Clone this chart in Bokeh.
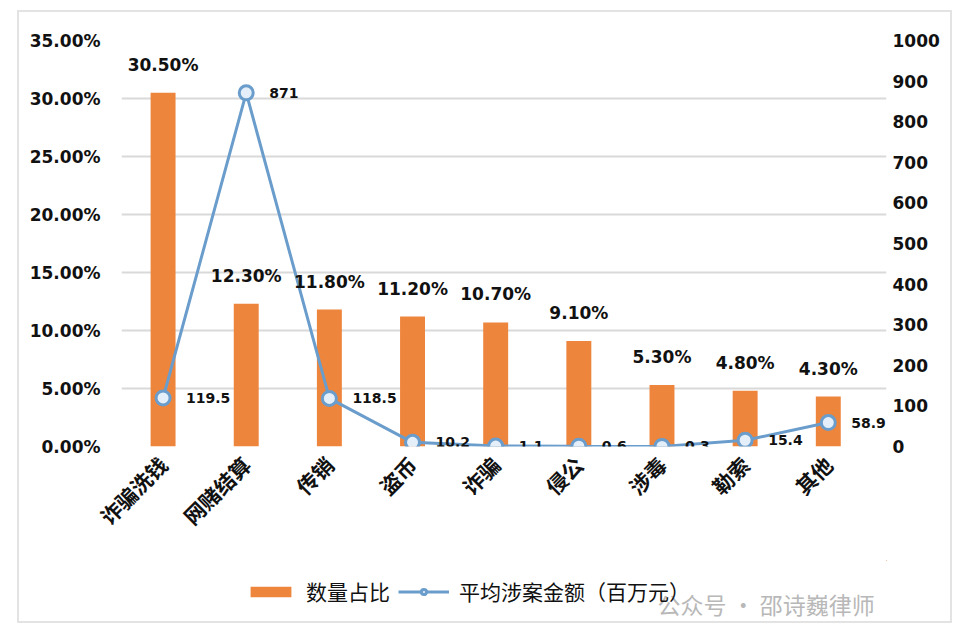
import math
from bokeh.plotting import figure
from bokeh.layouts import column
from bokeh.models import (ColumnDataSource, Range1d, LinearAxis, FixedTicker,
                          PrintfTickFormatter, LabelSet, Legend, LegendItem, Label)
from bokeh.core.properties import value
from bokeh.embed import file_html
from bokeh.resources import INLINE

categories = ["诈骗洗钱", "网赌结算", "传销", "盗币", "诈骗", "侵公", "涉毒", "勒索", "其他"]
share_pct = [30.5, 12.3, 11.8, 11.2, 10.7, 9.1, 5.3, 4.8, 4.3]
avg_amount = [119.5, 871, 118.5, 10.2, 1.1, 0.6, 0.3, 15.4, 58.9]
left_ticks = [0, 5, 10, 15, 20, 25, 30, 35]
right_ticks = [0, 100, 200, 300, 400, 500, 600, 700, 800, 900, 1000]

idx = list(range(len(categories)))
src = ColumnDataSource(dict(
    x=idx,
    cat=categories,
    share=share_pct,
    amt=avg_amount,
    share_txt=[f"{v:.2f}%" for v in share_pct],
    amt_txt=[f"{v:g}" for v in avg_amount],
))

NUM_FONT = "DejaVu Sans"
CJK_FONT = "Noto Sans CJK SC"
BAR_COLOR = "#ee853c"
LINE_COLOR = "#6a9dcb"
MARK_FILL = "#e4effa"

# ---------------- main chart ----------------
p = figure(x_range=Range1d(-0.5, len(categories) - 0.5 + 0.2), y_range=Range1d(0, 35),
           width=935, height=550, output_backend="svg", toolbar_location=None,
           min_border_left=102, min_border_right=68, min_border_top=28, min_border_bottom=116)
p.styles = {"border-style": "solid", "border-color": "#e3e3e3",
            "border-width": "2px 2px 0px 2px"}
p.outline_line_color = None
p.background_fill_color = "white"
p.border_fill_color = "white"
p.extra_y_ranges = {"amt": Range1d(0, 1000)}

p.xgrid.grid_line_color = None
p.ygrid.grid_line_color = "#d9d9d9"
p.ygrid.grid_line_width = 2
p.yaxis.ticker = FixedTicker(ticks=left_ticks)
p.yaxis.formatter = PrintfTickFormatter(format="%.2f%%")

ax = p.yaxis[0]
ax.axis_line_color = None
ax.major_tick_line_color = None
ax.minor_tick_line_color = None
ax.major_label_text_font = NUM_FONT
ax.major_label_text_font_style = "bold"
ax.major_label_text_font_size = "17px"
ax.major_label_text_color = "#111111"
ax.major_label_standoff = 15

rax = LinearAxis(y_range_name="amt", ticker=FixedTicker(ticks=right_ticks))
rax.axis_line_color = None
rax.major_tick_line_color = None
rax.minor_tick_line_color = None
rax.major_label_text_font = NUM_FONT
rax.major_label_text_font_style = "bold"
rax.major_label_text_font_size = "17px"
rax.major_label_text_color = "#111111"
rax.major_label_standoff = 0
p.add_layout(rax, "right")

xa = p.xaxis[0]
xa.ticker = FixedTicker(ticks=idx)
xa.major_label_overrides = {i: c for i, c in zip(idx, categories)}
xa.axis_line_color = None
xa.major_tick_line_color = None
xa.minor_tick_line_color = None
xa.major_label_orientation = math.pi / 4
xa.major_label_text_font = CJK_FONT
xa.major_label_text_font_style = "bold"
xa.major_label_text_font_size = "21px"
xa.major_label_text_color = "#111111"
xa.major_label_standoff = 8

bars = p.vbar(x="x", top="share", width=0.3, source=src,
              fill_color=BAR_COLOR, line_color=None)
line = p.line(x="x", y="amt", source=src, y_range_name="amt",
              line_color=LINE_COLOR, line_width=3)
pts = p.scatter(x="x", y="amt", source=src, y_range_name="amt", size=14,
                marker="circle", fill_color=MARK_FILL, line_color=LINE_COLOR, line_width=3)

bar_labels = LabelSet(x="x", y="share", text="share_txt", source=src,
                      text_align="center", text_baseline="middle", y_offset=28,
                      text_font=value(NUM_FONT), text_font_style="bold",
                      text_font_size="17px", text_color="#111111")
p.add_layout(bar_labels)

amt_labels = LabelSet(x="x", y="amt", text="amt_txt", source=src, y_range_name="amt",
                      text_align="left", text_baseline="middle", x_offset=23,
                      text_font=value(NUM_FONT), text_font_style="bold",
                      text_font_size="14px", text_color="#111111")
p.add_layout(amt_labels)

# ---------------- legend strip ----------------
# ranges chosen so that the data never falls inside this strip; it only hosts the legend
p2 = figure(x_range=Range1d(-10, -9), y_range=Range1d(-10, -9), width=935, height=63,
            output_backend="svg", toolbar_location=None,
            x_axis_type=None, y_axis_type=None,
            min_border_left=0, min_border_right=0, min_border_top=0, min_border_bottom=0)
p2.styles = {"border-style": "solid", "border-color": "#e3e3e3",
             "border-width": "0px 2px 2px 2px"}
p2.outline_line_color = None
p2.background_fill_color = "white"
p2.border_fill_color = "white"
p2.xgrid.visible = False
p2.ygrid.visible = False

lbar = p2.vbar(x="x", top="share", width=0.3, source=src,
               fill_color=BAR_COLOR, line_color=None)
lline = p2.line(x="x", y="amt", source=src, line_color=LINE_COLOR, line_width=3)
lpts = p2.scatter(x="x", y="amt", source=src, size=14, marker="circle",
                  fill_color=MARK_FILL, line_color=LINE_COLOR, line_width=3)

legend = Legend(items=[LegendItem(label="数量占比", renderers=[lbar]),
                       LegendItem(label="平均涉案金额（百万元）", renderers=[lline, lpts])],
                orientation="horizontal", location=(124, 17),
                glyph_width=51, glyph_height=13, label_standoff=10, spacing=8,
                padding=0, margin=0, border_line_color=None, background_fill_alpha=0,
                label_text_font=CJK_FONT, label_text_font_size="21px",
                label_text_color="#111111")
p2.add_layout(legend, "center")

wm = Label(x=536, y=20, x_units="screen", y_units="screen",
           text="公众号 · 邵诗巍律师", text_font=CJK_FONT, text_font_size="23px",
           text_color="#b8b8b8", text_baseline="middle", text_align="left")
p2.add_layout(wm)

root = column(p, p2, spacing=0)
root.margin = (10, 0, 0, 17)

open("out.html", "w").write(file_html(root, INLINE))
